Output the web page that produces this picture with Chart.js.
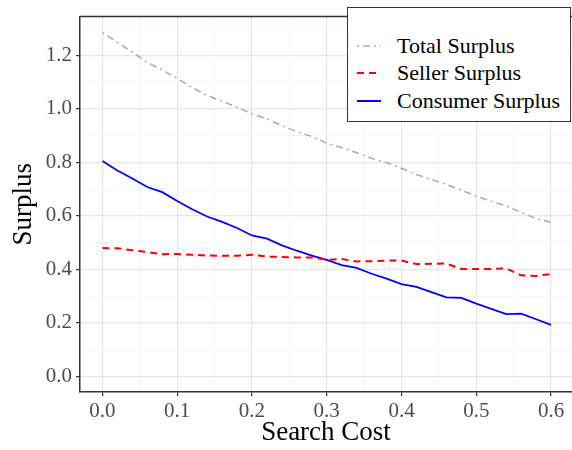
<!DOCTYPE html>
<html>
<head>
<meta charset="utf-8">
<script src="https://cdn.jsdelivr.net/npm/chart.js@4.4.0/dist/chart.umd.min.js"></script>
<style>
  body { margin: 0; background: #fff; }
  #wrap { position: relative; width: 572px; height: 450px; }
  #legend {
    position: absolute; left: 347px; top: 7px; width: 224px; height: 115px;
    border: 1.5px solid #333; background: #fff; box-sizing: border-box;
    font-family: "Liberation Serif", serif; font-size: 22px; color: #000;
  }
  .item { position: absolute; left: 9px; height: 28px; display: flex; align-items: center; white-space: nowrap; }
  .item svg { margin-right: 16px; }
</style>
</head>
<body>
<div id="wrap">
  <canvas id="grafico" width="572" height="450"></canvas>
  <div id="legend">
    <div class="item" style="top:24px"><svg width="24" height="4"><line x1="0" y1="2" x2="24" y2="2" stroke="#aaaaaa" stroke-width="1.5" stroke-dasharray="2 4 7 4"/></svg>Total Surplus</div>
    <div class="item" style="top:51px"><svg width="24" height="4"><line x1="0" y1="2" x2="24" y2="2" stroke="#ff0000" stroke-width="2" stroke-dasharray="7 5"/></svg>Seller Surplus</div>
    <div class="item" style="top:79px"><svg width="24" height="4"><line x1="0" y1="2" x2="24" y2="2" stroke="#0000ff" stroke-width="2"/></svg>Consumer Surplus</div>
  </div>
</div>
<script>
const searchCost = [0, 0.02, 0.04, 0.06, 0.08, 0.10, 0.12, 0.14, 0.16, 0.18, 0.20,
  0.22, 0.24, 0.26, 0.28, 0.30, 0.32, 0.34, 0.36, 0.38, 0.40,
  0.42, 0.44, 0.46, 0.48, 0.50, 0.52, 0.54, 0.56, 0.58, 0.60];
const consumerSurplus = [0.805, 0.770, 0.740, 0.708, 0.689, 0.656, 0.625, 0.598, 0.578, 0.555, 0.527,
  0.515, 0.490, 0.470, 0.452, 0.436, 0.416, 0.406, 0.384, 0.366, 0.345,
  0.335, 0.315, 0.296, 0.294, 0.272, 0.253, 0.233, 0.235, 0.214, 0.193];
const sellerSurplus = [0.480, 0.479, 0.472, 0.465, 0.457, 0.458, 0.455, 0.452, 0.451, 0.451, 0.455,
  0.448, 0.447, 0.445, 0.445, 0.436, 0.439, 0.430, 0.431, 0.433, 0.433,
  0.420, 0.421, 0.422, 0.402, 0.402, 0.402, 0.404, 0.378, 0.376, 0.383];
const totalSurplus = [1.285, 1.249, 1.212, 1.173, 1.146, 1.114, 1.080, 1.050, 1.029, 1.006, 0.982,
  0.963, 0.937, 0.915, 0.897, 0.872, 0.855, 0.836, 0.815, 0.799, 0.778,
  0.755, 0.736, 0.718, 0.696, 0.674, 0.655, 0.637, 0.613, 0.590, 0.576];
const xTicks = [0, 0.05, 0.1, 0.15, 0.2, 0.25, 0.3, 0.35, 0.4, 0.45, 0.5, 0.55, 0.6];
const yTicks = [0, 0.1, 0.2, 0.3, 0.4, 0.5, 0.6, 0.7, 0.8, 0.9, 1.0, 1.1, 1.2, 1.3];

const pares = (ys) => searchCost.map((x, i) => ({ x: x, y: ys[i] }));
const ehMaior = (v, passo) => Math.abs(v / passo - Math.round(v / passo)) < 1e-6;
const fonteTick = { family: 'Liberation Serif', size: 21 };
const fonteTitulo = { family: 'Liberation Serif', size: 27 };

const moldura = {
  id: 'moldura',
  afterDraw(chart) {
    const { ctx, chartArea } = chart;
    ctx.save();
    ctx.strokeStyle = '#333';
    ctx.lineWidth = 1.5;
    ctx.beginPath();
    ctx.moveTo(chartArea.left, chartArea.top);
    ctx.lineTo(chartArea.right, chartArea.top);
    ctx.stroke();
    ctx.restore();
  }
};

const ctx = document.getElementById('grafico').getContext('2d');
const grafico = new Chart(ctx, {
  type: 'line',
  data: {
    datasets: [{
      label: 'Total Surplus',
      data: pares(totalSurplus),
      borderColor: '#aaaaaa',
      borderWidth: 1.5,
      borderDash: [2, 4, 7, 4]
    }, {
      label: 'Seller Surplus',
      data: pares(sellerSurplus),
      borderColor: '#ff0000',
      borderWidth: 2,
      borderDash: [7, 5]
    }, {
      label: 'Consumer Surplus',
      data: pares(consumerSurplus),
      borderColor: '#0000ff',
      borderWidth: 1.8
    }]
  },
  options: {
    responsive: false,
    animation: false,
    elements: { point: { radius: 0 }, line: { tension: 0 } },
    layout: { padding: { top: 7, right: 0, left: 0, bottom: 0 } },
    plugins: {
      legend: { display: false },
      tooltip: { enabled: false }
    },
    scales: {
      x: {
        type: 'linear',
        min: -0.03,
        max: 0.628,
        afterBuildTicks: (s) => { s.ticks = xTicks.map(v => ({ value: v })); },
        afterFit: (s) => { s.height = 58; },
        ticks: {
          autoSkip: false, maxRotation: 0, padding: 3,
          color: '#4d4d4d', font: fonteTick,
          callback: (v) => ehMaior(v, 0.1) ? v.toFixed(1) : ''
        },
        grid: {
          color: (c) => ehMaior(c.tick.value, 0.1) ? '#e6e6e6' : '#f2f2f2',
          lineWidth: (c) => ehMaior(c.tick.value, 0.1) ? 1.2 : 0.8,
          tickColor: (c) => ehMaior(c.tick.value, 0.1) ? '#333' : 'rgba(0,0,0,0)',
          tickLength: 4, tickWidth: 1.2
        },
        border: { display: true, color: '#333', width: 1.5 },
        title: { display: true, text: 'Search Cost', color: '#000', font: fonteTitulo, padding: { top: 0, bottom: 1 } }
      },
      y: {
        min: -0.058,
        max: 1.345,
        afterBuildTicks: (s) => { s.ticks = yTicks.map(v => ({ value: v })); },
        afterFit: (s) => { s.width = 80; },
        ticks: {
          autoSkip: false, padding: 4,
          color: '#4d4d4d', font: fonteTick,
          callback: (v) => ehMaior(v, 0.2) ? v.toFixed(1) : ''
        },
        grid: {
          color: (c) => ehMaior(c.tick.value, 0.2) ? '#e6e6e6' : '#f2f2f2',
          lineWidth: (c) => ehMaior(c.tick.value, 0.2) ? 1.2 : 0.8,
          tickColor: (c) => ehMaior(c.tick.value, 0.2) ? '#333' : 'rgba(0,0,0,0)',
          tickLength: 4, tickWidth: 1.2
        },
        border: { display: true, color: '#333', width: 1.5 },
        title: { display: true, text: 'Surplus', color: '#000', font: fonteTitulo, padding: { top: 8, bottom: 0 } }
      }
    }
  },
  plugins: [moldura]
});
</script>
</body>
</html>
